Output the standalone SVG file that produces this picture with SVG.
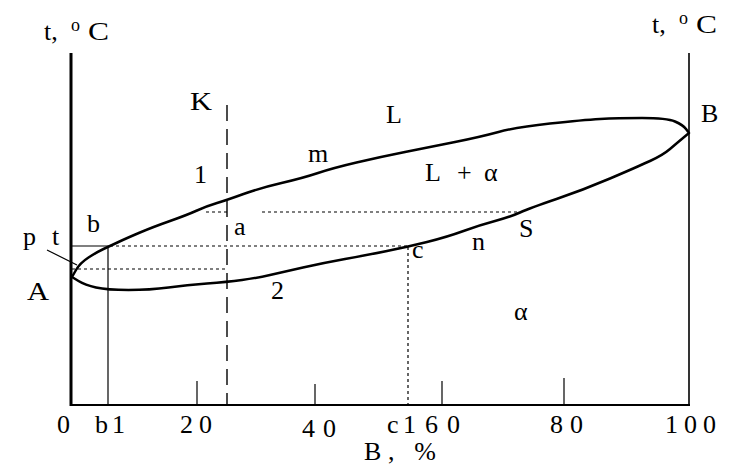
<svg xmlns="http://www.w3.org/2000/svg" width="745" height="473" viewBox="0 0 745 473">
<style>
text{font-family:"Liberation Serif","Times New Roman",serif;font-size:26px;fill:#000}
.sup{font-size:18px}
.axis{stroke:#000;fill:none}
.thin{stroke:#000;stroke-width:1.2;fill:none}
.dot{stroke:#000;stroke-width:1.2;stroke-dasharray:3 3;fill:none}
.dash{stroke:#000;stroke-width:1.4;stroke-dasharray:16 8;fill:none}
.curve{stroke:#000;stroke-width:2.5;fill:none;stroke-linejoin:round}
</style>
<rect width="745" height="473" fill="#fff"/>
<g id="axes">
<line class="axis" x1="71" y1="53" x2="71" y2="406" stroke-width="3"/>
<line class="axis" x1="689" y1="53" x2="689" y2="406" stroke-width="1.6"/>
<line class="axis" x1="70" y1="405" x2="690" y2="405" stroke-width="1.8"/>
<line class="thin" x1="197" y1="381" x2="197" y2="405"/>
<line class="thin" x1="315" y1="384" x2="315" y2="405"/>
<line class="thin" x1="442" y1="381" x2="442" y2="405"/>
<line class="thin" x1="564" y1="378" x2="564" y2="405"/>
</g>
<g id="connectors">
<line class="dash" x1="227" y1="105" x2="227" y2="405" stroke-dasharray="1 10 16 8"/>
<line class="thin" x1="71" y1="246" x2="110" y2="246"/>
<line class="thin" x1="108" y1="246" x2="108" y2="405"/>
<line class="dot" x1="110" y1="246" x2="408" y2="246"/>
<line class="dot" x1="408" y1="247" x2="408" y2="405"/>
<line class="dot" x1="72" y1="269" x2="227" y2="269"/>
<line class="dot" x1="206" y1="212" x2="227" y2="212"/>
<line class="dot" x1="262" y1="212" x2="522" y2="212"/>
<line class="thin" x1="47" y1="250" x2="77" y2="265"/>
</g>
<g id="loop">
<path class="curve" d="M72,277 L76,270 Q80,263 88.5,257.5 Q97,252 103.5,249 Q110,246 118.5,242 Q127,238 140,232.5 Q153,227 170,221 Q187,215 197,210.5 Q207,206 217,203 Q227,200 243.5,194 Q260,188 281.5,183 Q303,178 318,173 Q333,168 356.5,162.5 Q380,157 405,152 Q430,147 455,142 Q480,137 498.5,132 Q517,127 550,123.5 Q583,120 600,119 Q617,118 642,118 Q667,118 675,121.5 Q683,125 686,129 L689,133 L683,138 Q677,143 670,149 Q663,155 650,161 Q637,167 610,178.5 Q583,190 556.5,199 Q530,208 520,212.5 Q510,217 495,221 Q480,225 463.5,231 Q447,237 427,242 Q407,247 387,251 Q367,255 345,259 Q323,263 303,267.5 Q283,272 270,275 Q257,278 242,280 Q227,282 207,283.5 Q187,285 168.5,287.5 Q150,290 128.5,290 Q107,290 96,287.5 Q85,285 78.5,281 Z"/>
</g>
<g id="labels">
<text x="44" y="40">t,</text><text class="sup" x="71" y="31">o</text><text x="88" y="40" textLength="21" lengthAdjust="spacingAndGlyphs">C</text>
<text x="652" y="33">t,</text><text class="sup" x="679" y="24">o</text><text x="696" y="33" textLength="21" lengthAdjust="spacingAndGlyphs">C</text>
<text x="190" y="110" textLength="22" lengthAdjust="spacingAndGlyphs">K</text>
<text x="194" y="183">1</text>
<text x="386" y="123">L</text>
<text x="308" y="162">m</text>
<text x="425" y="181">L</text><text x="457" y="181">+</text><text x="484" y="181">α</text>
<text x="87" y="232">b</text>
<text x="234" y="235">a</text>
<text x="23" y="245">p</text><text x="52" y="245">t</text>
<text x="27" y="300" textLength="22" lengthAdjust="spacingAndGlyphs">A</text>
<text x="412" y="258">c</text>
<text x="271" y="299">2</text>
<text x="472" y="250">n</text>
<text x="519" y="237">S</text>
<text x="514" y="320">α</text>
<text x="701" y="122">B</text>
<text x="57" y="433">0</text>
<text x="95" y="433" textLength="30" lengthAdjust="spacing">b1</text>
<text x="180" y="433" textLength="32" lengthAdjust="spacing">20</text>
<text x="302" y="437" textLength="34" lengthAdjust="spacing">40</text>
<text x="387" y="433" textLength="29" lengthAdjust="spacing">c1</text>
<text x="425" y="433" textLength="35" lengthAdjust="spacing">60</text>
<text x="550" y="433" textLength="33" lengthAdjust="spacing">80</text>
<text x="665" y="433" textLength="51" lengthAdjust="spacing">100</text>
<text x="364" y="460" textLength="72" lengthAdjust="spacing">B, %</text>
</g>
</svg>
